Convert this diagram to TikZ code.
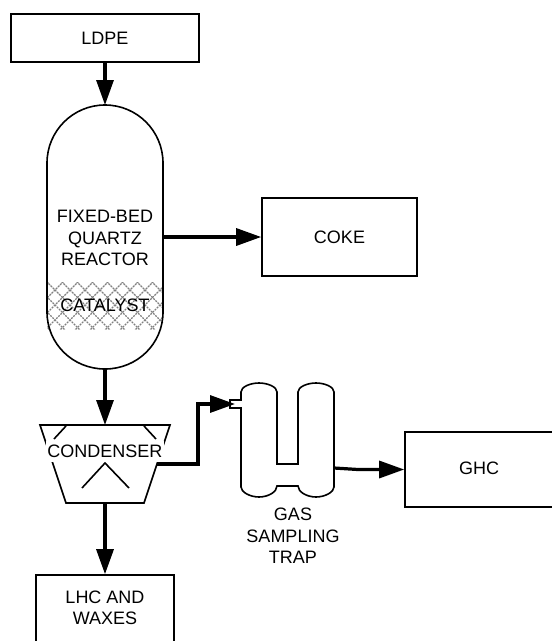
\documentclass[tikz,border=0pt]{standalone}
\usepackage{fontspec}
\setmainfont{Liberation Sans}
\usetikzlibrary{arrows.meta}
\tikzset{
  box/.style={draw=black,line width=1.6pt,rectangle,inner sep=0pt,font=\fontsize{18}{21.5}\selectfont,align=center},
  label/.style={inner sep=0pt,font=\fontsize{18}{21.5}\selectfont,align=center},
  shapeline/.style={draw=black,line width=1.6pt},
  flow/.style={draw=black,line width=3.2pt,-{Triangle[length=25pt,width=17pt]}},
  mesh/.style={draw=black!50,line width=1.1pt,dash pattern=on 2pt off 1pt}
}
\begin{document}
\begin{tikzpicture}[x=1pt,y=-1pt]
\useasboundingbox (0,0) rectangle (552,641);
\clip (0,0) rectangle (552,641);
% catalyst hatch
\begin{scope}
\clip (47,282) rectangle (163,329);
\foreach \k in {-20,-5,...,340}{
  \draw[mesh] (\k,275) -- ++(60,60);
  \draw[mesh] (\k,275) -- ++(-60,60);
}
\end{scope}
% reactor
\draw[shapeline] (47,163) .. controls (47,131) and (73,105) .. (105,105)
  .. controls (137,105) and (163,131) .. (163,163) -- (163,312)
  .. controls (163,344) and (137,369) .. (105,369)
  .. controls (73,369) and (47,344) .. (47,312) -- cycle;
\node[label] (rtext) at (105,238) {FIXED-BED\\QUARTZ\\REACTOR};
\node[label] (cat) at (105,305) {CATALYST};
\coordinate (rtop) at (105,105);
\coordinate (rbot) at (105,369);
\coordinate (rright) at (163,237);
% boxes
\node[box,minimum width=188pt,minimum height=48pt] (ldpe) at (105,38) {LDPE};
\node[box,minimum width=155pt,minimum height=78pt] (coke) at (339.5,237) {COKE};
\node[box,minimum width=160pt,minimum height=75pt] (ghc) at (485,469.5) {};
\node[label] (ghct) at (479,468) {GHC};
\node[box,minimum width=138pt,minimum height=90pt] (lhc) at (105,620) {};
\node[label] (lhct) at (105,608) {LHC AND\\WAXES};
% condenser
\draw[shapeline] (40,425) -- (170,425) -- (144,503) -- (66,503) -- cycle;
\draw[shapeline] (66,426) -- (54,439) (144,426) -- (156,439);
\draw[shapeline] (82,488) -- (105,463) -- (129,488);
\node[label,fill=white,minimum height=21pt,inner xsep=1pt] (cond) at (105,451) {CONDENSER};
\coordinate (ctop) at (105,425);
\coordinate (cbot) at (105,503);
\coordinate (cout) at (157,464);
\coordinate (cbend) at (198,464);
\coordinate (cbend2) at (198,404);
% gas sampling trap
\draw[shapeline] (241,392) .. controls (241,387) and (250,383) .. (259,383)
  .. controls (268,383) and (277,387) .. (277,392) -- (277,464) -- (298,464) -- (298,392)
  .. controls (298,387) and (307,383) .. (316,383)
  .. controls (325,383) and (334,387) .. (334,392) -- (334,487)
  .. controls (334,492) and (325,497) .. (316,497)
  .. controls (307,497) and (298,492) .. (298,486) -- (277,486)
  .. controls (277,492) and (268,497) .. (259,497)
  .. controls (250,497) and (241,492) .. (241,487) -- (241,408) -- (230,408)
  -- (230,400) -- (241,400) -- cycle;
\node[label] (gas) at (293,536) {GAS\\SAMPLING\\TRAP};
\coordinate (tin) at (235,404);
\coordinate (tout) at (334,468);
\coordinate (tmid) at (358,469.5);
% connectors
\draw[flow] (ldpe.south) -- (rtop);
\draw[flow] (rright) -- (coke.west);
\draw[flow] (rbot) -- (ctop);
\draw[flow] (cbot) -- (lhc.north);
\draw[flow] (cout) -- (cbend) -- (cbend2) -- (tin);
\draw[flow] (tout) -- (tmid) -- (ghc.west);
\end{tikzpicture}
\end{document}
